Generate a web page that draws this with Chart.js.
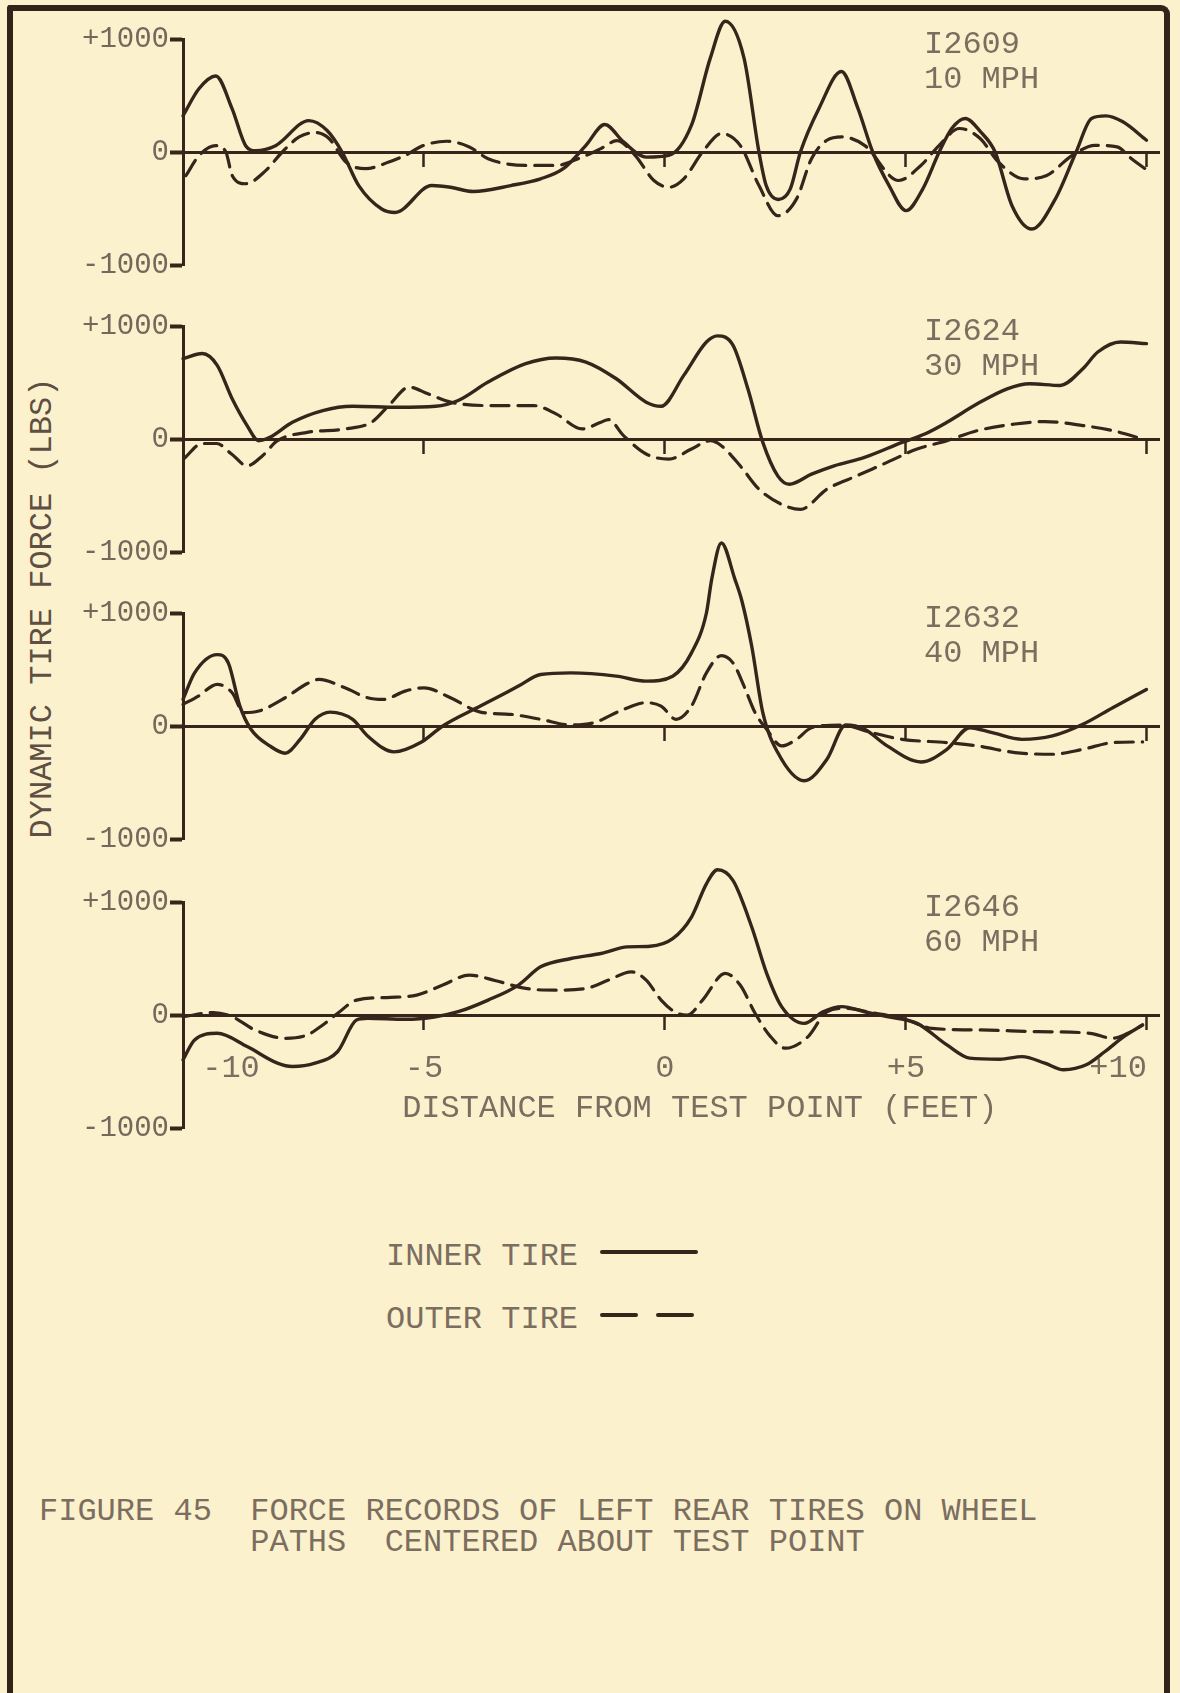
<!DOCTYPE html>
<html>
<head>
<meta charset="utf-8">
<title>Figure 45 - Force records of left rear tires</title>
<script src="https://cdn.jsdelivr.net/npm/chart.js@4.4.1/dist/chart.umd.min.js"></script>
<style>
  html, body { margin: 0; padding: 0; }
  body {
    width: 1180px; height: 1693px; overflow: hidden; position: relative;
    background: #fbf2cd;
    font-family: 'Liberation Mono', 'DejaVu Sans Mono', monospace;
  }
  #frame {
    position: absolute; left: 7px; top: 5px; width: 1151px; height: 1740px;
    border: 6px solid #33241a; border-bottom: none;
    border-radius: 3px 9px 0 0;
  }
  canvas.panel { position: absolute; left: 0; }
  #ytitle {
    position: absolute; left: 43px; top: 608px;
    transform: translate(-50%, -50%) rotate(-90deg);
    white-space: pre; font-size: 32px; line-height: 32px; color: #5e4f42;
  }
  .txt { position: absolute; white-space: pre; font-size: 32px; line-height: 32px; color: #7b6e60; }
  .key { position: absolute; }
</style>
</head>
<body>
<div id="frame"></div>
<div id="ytitle">DYNAMIC TIRE FORCE (LBS)</div>
<div id="legend"></div>
<div class="txt" id="cap1" style="left:39px; top:1496px;"></div>
<div class="txt" id="cap2" style="left:39px; top:1527px;"></div>

<script>
// ---- labels ----
const RUNS = ['I2609', 'I2624', 'I2632', 'I2646'];
const SPEEDS = ['10 MPH', '30 MPH', '40 MPH', '60 MPH'];
const SERIES = ['INNER TIRE', 'OUTER TIRE'];
const X_TICKS = [-10, -5, 0, 5, 10];
const Y_TICKS = [-1000, 0, 1000];
const X_TITLE = 'DISTANCE FROM TEST POINT (FEET)';
const Y_TITLE = 'DYNAMIC TIRE FORCE (LBS)';
const CAPTION = ['FIGURE 45  FORCE RECORDS OF LEFT REAR TIRES ON WHEEL',
                 '           PATHS  CENTERED ABOUT TEST POINT'];

// ---- 10 MPH (run I2609): distance (ft) and dynamic force (lbs) ----
const FT_10_INNER = [-10, -9.67, -9.32, -8.98, -8.7, -8.49, -8.08, -7.39, -7.01, -6.7, -6.35, -5.87, -5.6, -4.84, -4.45, -3.98, -3.2, -2.58, -2.11, -1.64, -1.25, -0.86, -0.39, 0.08, 0.55, 0.94, 1.25, 1.64, 1.95, 2.1, 2.35, 2.6, 2.81, 3.2, 3.66, 4.0, 4.31, 4.65, 5.0, 5.35, 5.69, 5.95, 6.23, 6.55, 6.85, 7.2, 7.61, 8.1, 8.53, 8.85, 9.15, 9.5, 9.99];
const LBS_10_INNER = [320, 560, 673, 382, 56, 12, 56, 278, 190, 0, -300, -507, -535, -297, -312, -350, -297, -237, -148, 59, 243, 89, -45, -30, 237, 831, 1157, 831, 0, -297, -420, -326, 0, 390, 712, 390, 0, -297, -519, -326, 0, 208, 297, 178, 0, -475, -682, -415, 0, 297, 320, 267, 104];
const FT_10_OUTER = [-9.94, -9.67, -9.32, -9.11, -8.98, -8.7, -8.28, -7.94, -7.59, -7.25, -6.97, -6.62, -6.21, -5.73, -5.39, -5.0, -4.53, -4.06, -3.67, -2.89, -2.26, -1.8, -1.33, -1.0, -0.62, -0.23, 0.08, 0.39, 0.78, 1.17, 1.56, 1.95, 2.34, 2.73, 3.04, 3.36, 3.67, 4.14, 4.85, 5.31, 5.69, 6.11, 6.54, 6.92, 7.46, 7.92, 8.45, 8.92, 9.38, 9.68, 10.06];
const LBS_10_OUTER = [-210, -33, 56, 0, -207, -281, -163, 0, 133, 172, 119, -89, -148, -89, -30, 59, 95, 45, -59, -119, -119, -59, 30, 100, -30, -252, -312, -237, 0, 163, 59, -297, -564, -415, -59, 104, 134, 59, -252, -119, 59, 208, 119, -89, -237, -208, -30, 59, 45, -59, -178];

// ---- 30 MPH (run I2624) ----
const FT_30_INNER = [-10, -9.6, -9.29, -8.98, -8.67, -8.43, -8.2, -7.73, -7.1, -6.48, -5.54, -4.76, -4.29, -3.67, -2.89, -2.26, -1.64, -1.01, -0.39, -0.08, 0.39, 0.86, 1.09, 1.41, 1.72, 2.03, 2.34, 2.58, 3.04, 3.51, 4.14, 4.92, 5.39, 5.85, 6.48, 7.1, 7.57, 8.2, 8.67, 8.98, 9.45, 9.99];
const LBS_30_INNER = [711, 756, 652, 356, 119, -15, 15, 148, 252, 290, 281, 290, 341, 504, 667, 717, 681, 533, 326, 290, 563, 859, 913, 830, 444, -30, -326, -400, -311, -237, -163, -30, 44, 148, 311, 444, 489, 474, 622, 770, 859, 844];
const FT_30_OUTER = [-9.99, -9.6, -9.3, -9.0, -8.67, -8.35, -8.04, -7.42, -6.64, -6.09, -5.7, -5.31, -4.92, -4.45, -3.67, -2.73, -2.26, -1.72, -1.33, -1.17, -0.86, -0.39, 0.08, 0.55, 0.94, 1.17, 1.56, 1.95, 2.42, 2.81, 3.36, 3.98, 4.61, 5.23, 5.85, 6.48, 7.26, 7.88, 8.67, 9.29, 9.91];
const LBS_30_OUTER = [-178, -40, -40, -130, -237, -148, -15, 59, 89, 148, 311, 459, 400, 326, 296, 296, 222, 89, 148, 172, 30, -133, -178, -89, -15, -59, -237, -444, -578, -622, -444, -326, -207, -89, -15, 74, 133, 154, 119, 74, 0];

// ---- 40 MPH (run I2632) ----
const FT_40_INNER = [-10, -9.76, -9.29, -9.06, -8.82, -8.59, -8.2, -7.88, -7.57, -7.26, -6.95, -6.48, -6.17, -5.62, -5.07, -4.61, -3.83, -3.04, -2.58, -1.95, -1.01, -0.39, 0.16, 0.55, 0.86, 0.97, 1.17, 1.45, 1.6, 1.8, 2.03, 2.34, 2.89, 3.36, 3.75, 4.14, 4.61, 5.31, 5.85, 6.32, 6.79, 7.41, 8.04, 8.67, 9.29, 9.99];
const LBS_40_INNER = [235, 470, 632, 559, 176, -29, -176, -241, -118, 59, 123, 59, -88, -229, -147, 0, 176, 353, 456, 470, 441, 397, 441, 647, 1000, 1300, 1620, 1300, 1100, 706, 118, -235, -485, -294, 9, -29, -176, -318, -206, -15, -59, -118, -88, 15, 162, 323];
const FT_40_OUTER = [-10, -9.68, -9.29, -8.98, -8.74, -8.43, -7.88, -7.42, -7.18, -6.64, -6.17, -5.85, -5.39, -5.0, -4.45, -3.83, -3.2, -2.58, -1.95, -1.48, -0.86, -0.39, -0.08, 0.23, 0.55, 0.86, 1.17, 1.41, 1.64, 1.87, 2.11, 2.42, 2.73, 3.04, 3.67, 4.29, 4.92, 5.85, 6.48, 7.26, 8.04, 8.67, 9.29, 9.91];
const LBS_40_OUTER = [191, 265, 368, 294, 118, 132, 250, 376, 412, 338, 250, 235, 309, 338, 250, 123, 103, 59, 9, 29, 147, 206, 176, 59, 176, 470, 623, 559, 353, 118, -29, -176, -118, -15, 9, -59, -118, -147, -176, -235, -250, -206, -147, -141];

// ---- 60 MPH (run I2646) ----
const FT_60_INNER = [-10, -9.76, -9.29, -8.67, -8.04, -7.73, -7.26, -6.79, -6.4, -6.17, -5.39, -4.76, -4.29, -3.67, -3.04, -2.58, -1.95, -1.33, -0.78, -0.31, 0.16, 0.55, 0.86, 1.09, 1.41, 1.8, 2.11, 2.42, 2.89, 3.28, 3.67, 4.14, 4.61, 5.23, 5.85, 6.32, 6.95, 7.41, 7.88, 8.27, 8.74, 9.13, 9.52, 9.91];
const LBS_60_INNER = [-397, -221, -162, -279, -426, -456, -426, -323, -44, -29, -38, -15, 29, 132, 265, 426, 500, 544, 603, 609, 676, 867, 1161, 1285, 1191, 779, 368, 74, -74, 29, 74, 29, -15, -74, -265, -382, -391, -368, -426, -485, -441, -323, -191, -88];
const FT_60_OUTER = [-9.99, -9.37, -8.98, -8.51, -7.88, -7.42, -7.1, -6.79, -6.4, -5.7, -5.15, -4.61, -4.06, -3.51, -2.89, -2.26, -1.64, -1.17, -0.7, -0.39, -0.08, 0.23, 0.47, 0.78, 1.25, 1.56, 1.87, 2.19, 2.5, 2.97, 3.36, 3.75, 4.29, 4.92, 5.54, 6.48, 7.73, 8.82, 9.29, 9.6, 9.91];
const LBS_60_OUTER = [-15, 21, -15, -132, -206, -176, -88, 15, 132, 156, 176, 265, 353, 303, 235, 220, 235, 309, 382, 309, 132, 21, 0, 132, 368, 265, 15, -191, -294, -191, 29, 59, 21, -29, -118, -132, -147, -162, -206, -162, -88];

const PANELS = [
  { inner: [FT_10_INNER, LBS_10_INNER], outer: [FT_10_OUTER, LBS_10_OUTER] },
  { inner: [FT_30_INNER, LBS_30_INNER], outer: [FT_30_OUTER, LBS_30_OUTER] },
  { inner: [FT_40_INNER, LBS_40_INNER], outer: [FT_40_OUTER, LBS_40_OUTER] },
  { inner: [FT_60_INNER, LBS_60_INNER], outer: [FT_60_OUTER, LBS_60_OUTER] }
];

// ---- page layout ----
const INK = '#36251b';
const TICK_INK = '#73685b';
const TYPE_INK = '#7b6e60';
const MONO = "'Liberation Mono', 'DejaVu Sans Mono', monospace";
const ZERO_LINE_Y = [152, 439, 726, 1015];   // page y of each panel's zero line
const HALF_SPAN = 113;                       // px from 0 to +/-1000
const PAD_TOP = 100, PAD_BOTTOM = 60;
const AXIS_X = 183;                          // page x of the force axis
const LINE_STYLES = [
  { borderWidth: 3.4, borderDash: [] },
  { borderWidth: 3.2, borderDash: [18, 9] }
];

function points(pair) {
  const [xs, ys] = pair;
  return xs.map((x, k) => ({ x: x, y: ys[k] }));
}

function xTickLabel(v) {
  const s = v > 0 ? '+' + v : String(v);
  return v === X_TICKS[0] ? ' ' + s : s;   // keep clear of the force axis
}

// run number and speed printed in the upper right of each panel
const runLabelPlugin = {
  id: 'runLabel',
  afterDraw(chart, args, opts) {
    const { ctx } = chart;
    const y0 = chart.scales.y.getPixelForValue(0);
    ctx.save();
    ctx.font = '32px ' + MONO;
    ctx.fillStyle = TYPE_INK;
    ctx.textAlign = 'left';
    ctx.textBaseline = 'middle';
    ctx.fillText(opts.run, 924, y0 - 107);
    ctx.fillText(opts.speed, 924, y0 - 72);
    ctx.restore();
  }
};

PANELS.forEach((panel, i) => {
  const canvas = document.createElement('canvas');
  canvas.className = 'panel';
  canvas.width = 1180;
  canvas.height = PAD_TOP + 2 * HALF_SPAN + PAD_BOTTOM;
  canvas.style.top = (ZERO_LINE_Y[i] - HALF_SPAN - PAD_TOP) + 'px';
  document.body.appendChild(canvas);
  const last = i === PANELS.length - 1;

  new Chart(canvas.getContext('2d'), {
    type: 'line',
    data: {
      datasets: [panel.inner, panel.outer].map((pair, k) => ({
        label: SERIES[k],
        data: points(pair),
        borderColor: INK,
        borderWidth: LINE_STYLES[k].borderWidth,
        borderDash: LINE_STYLES[k].borderDash,
        borderCapStyle: 'round',
        borderJoinStyle: 'round',
        pointRadius: 0,
        fill: false,
        cubicInterpolationMode: 'monotone',
        clip: false
      }))
    },
    options: {
      responsive: false,
      animation: false,
      events: [],
      layout: { padding: { left: 0, right: 21, top: PAD_TOP, bottom: PAD_BOTTOM } },
      plugins: {
        legend: { display: false },
        tooltip: { enabled: false },
        runLabel: { run: RUNS[i], speed: SPEEDS[i] }
      },
      scales: {
        x: {
          type: 'linear',
          min: -10,
          max: 10.25,
          position: { y: 0 },
          afterBuildTicks: (s) => { s.ticks = X_TICKS.map(v => ({ value: v })); },
          border: { display: true, color: INK, width: 3 },
          grid: { display: true, drawOnChartArea: false, drawTicks: true, tickLength: 13,
                  tickWidth: 2.5, tickColor: INK, color: INK },
          ticks: { display: last, padding: 21, align: 'inner', autoSkip: false, maxRotation: 0,
                   color: TYPE_INK, font: { family: MONO, size: 32 },
                   callback: (v) => xTickLabel(v) },
          title: { display: last, text: '   ' + X_TITLE, color: TYPE_INK,
                   font: { family: MONO, size: 32 }, padding: { top: 7, bottom: 0 } }
        },
        y: {
          type: 'linear',
          min: -1000,
          max: 1000,
          position: 'left',
          afterBuildTicks: (s) => { s.ticks = Y_TICKS.map(v => ({ value: v })); },
          afterFit: (s) => { s.width = AXIS_X; },
          border: { display: true, color: INK, width: 3 },
          grid: { display: true, drawOnChartArea: false, drawTicks: true, tickLength: 13,
                  tickWidth: 4, tickColor: INK, color: INK },
          ticks: { padding: 1, color: TICK_INK, font: { family: MONO, size: 29 },
                   callback: (v) => (v > 0 ? '+' + v : String(v)) }
        }
      }
    },
    plugins: [runLabelPlugin]
  });
});

// ---- legend, built from the dataset styles ----
const legend = document.getElementById('legend');
const KEY_TOP = [1241, 1304];
SERIES.forEach((name, k) => {
  const label = document.createElement('div');
  label.className = 'txt';
  label.style.left = '386px';
  label.style.top = KEY_TOP[k] + 'px';
  label.textContent = name;
  legend.appendChild(label);

  const sw = document.createElement('canvas');
  sw.className = 'key';
  sw.width = 100; sw.height = 12;
  sw.style.left = '599px';
  sw.style.top = (KEY_TOP[k] + 5) + 'px';
  legend.appendChild(sw);
  const c = sw.getContext('2d');
  c.strokeStyle = INK;
  c.lineWidth = 4;
  c.lineCap = 'round';
  c.setLineDash(k === 0 ? [] : [34, 22]);
  c.beginPath();
  c.moveTo(3, 6);
  c.lineTo(97, 6);
  c.stroke();
});

document.getElementById('ytitle').textContent = Y_TITLE;
document.getElementById('cap1').textContent = CAPTION[0];
document.getElementById('cap2').textContent = CAPTION[1];
</script>
</body>
</html>
